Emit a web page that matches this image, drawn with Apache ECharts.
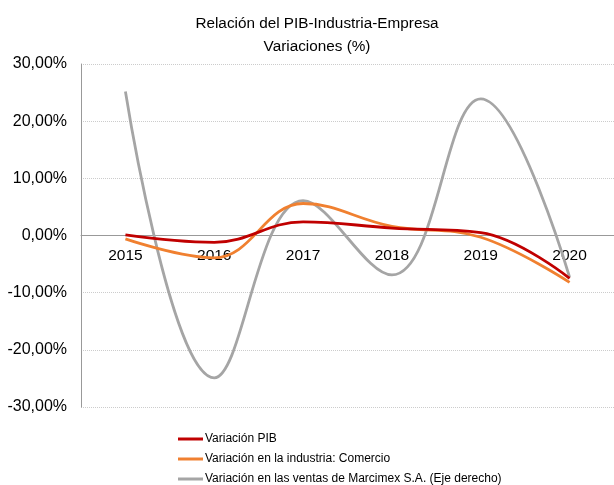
<!DOCTYPE html>
<html>
<head>
<meta charset="utf-8">
<script src="https://cdn.jsdelivr.net/npm/echarts@6/dist/echarts.min.js"></script>
<style>
  html, body { margin: 0; padding: 0; background: #fff; }
  #chart { width: 614px; height: 485px; }
</style>
</head>
<body>
<div id="chart"></div>
<script>
  // categorías y series (porcentajes)
  var years = ['2015', '2016', '2017', '2018', '2019', '2020'];
  var pib = [0.1, -1.2, 2.4, 1.3, 0.5, -7.5];
  var comercio = [-0.6, -3.9, 5.6, 1.6, -0.3, -8.2];
  var marcimex = [25.2, -24.9, 6.1, -6.9, 23.9, -7.3];
  var yTicks = [-30, -20, -10, 0, 10, 20, 30];

  var font = 'Liberation Sans, Arial, sans-serif';
  var gridTop = 64, gridHeight = 343;
  var myChart = echarts.init(document.getElementById('chart'));

  function pct(v) {
    return v.toFixed(2).replace('.', ',') + '%';
  }

  // el eje x se dibuja sobre el cero del eje izquierdo
  var yMin = yTicks[0], yMax = yTicks[yTicks.length - 1];
  var zeroOffset = gridHeight * (0 - yMin) / (yMax - yMin);

  myChart.setOption({
    animation: false,
    title: {
      text: 'Relación del PIB-Industria-Empresa\nVariaciones (%)',
      left: 312,
      textAlign: 'center',
      top: 7,
      textStyle: { fontFamily: font, fontSize: 15.3, fontWeight: 'normal', color: '#000', lineHeight: 23 }
    },
    legend: {
      orient: 'vertical',
      left: 173,
      top: 428,
      height: 70,
      itemWidth: 25,
      itemHeight: 3,
      itemGap: 8,
      icon: 'rect',
      textStyle: { fontFamily: font, fontSize: 12, color: '#000', padding: [0, 0, 0, -3] },
      data: ['Variación PIB', 'Variación en la industria: Comercio', 'Variación en las ventas de Marcimex S.A. (Eje derecho)']
    },
    grid: { left: 81, top: gridTop, width: 540, height: gridHeight },
    xAxis: {
      type: 'category',
      data: years,
      boundaryGap: true,
      offset: -zeroOffset,
      axisLine: { onZero: false, lineStyle: { color: '#999', width: 1 } },
      axisTick: { show: false },
      axisLabel: { fontFamily: font, fontSize: 15.5, color: '#000', margin: 12 },
      splitLine: { show: false }
    },
    yAxis: [{
      type: 'value',
      min: yMin,
      max: yMax,
      interval: 10,
      axisLine: { show: true, lineStyle: { color: '#999', width: 1 } },
      axisTick: { show: false },
      axisLabel: { fontFamily: font, fontSize: 16, color: '#000', margin: 14, formatter: pct },
      splitLine: { lineStyle: { color: '#ccc', type: [1, 1], width: 1 } }
    }, {
      type: 'value',
      min: yMin,
      max: yMax,
      interval: 10,
      show: false
    }],
    series: [{
      name: 'Variación PIB',
      type: 'line',
      data: pib,
      smooth: 0.4,
      symbol: 'none',
      z: 4,
      itemStyle: { color: '#C00000' },
      lineStyle: { color: '#C00000', width: 2.8 }
    }, {
      name: 'Variación en la industria: Comercio',
      type: 'line',
      data: comercio,
      smooth: 0.4,
      symbol: 'none',
      z: 3,
      itemStyle: { color: '#F08030' },
      lineStyle: { color: '#F08030', width: 2.8 }
    }, {
      name: 'Variación en las ventas de Marcimex S.A. (Eje derecho)',
      type: 'line',
      yAxisIndex: 1,
      data: marcimex,
      smooth: 0.4,
      symbol: 'none',
      z: 2,
      itemStyle: { color: '#A5A5A5' },
      lineStyle: { color: '#A5A5A5', width: 2.8 }
    }]
  });
</script>
</body>
</html>
